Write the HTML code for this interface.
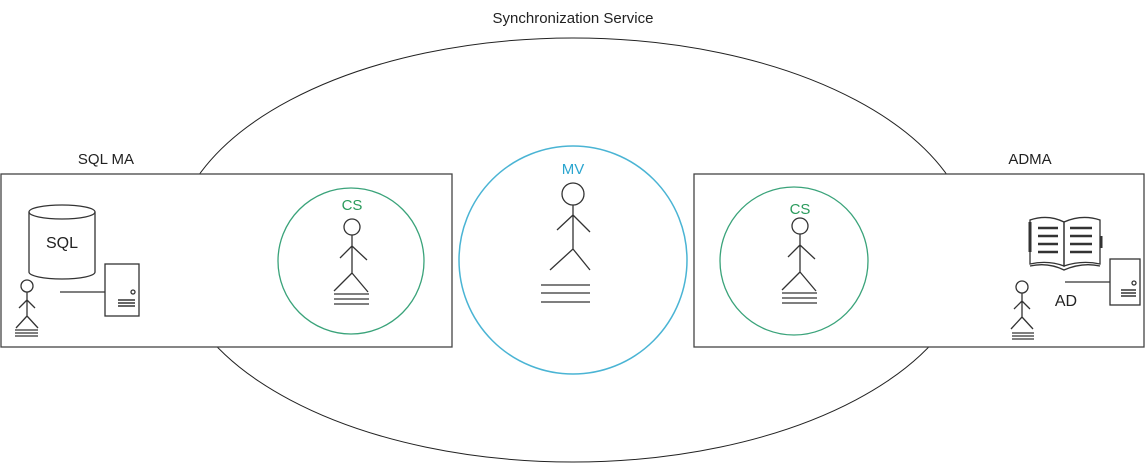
<!DOCTYPE html>
<html><head><style>body{margin:0;background:#fff}svg{display:block}</style></head><body>
<svg width="1146" height="470" xmlns="http://www.w3.org/2000/svg" font-family="Liberation Sans, sans-serif">
<rect width="1146" height="470" fill="#fff"/>
<ellipse cx="573" cy="250" rx="400" ry="212" fill="none" stroke="#222" stroke-width="1"/>
<text x="573" y="23" font-size="15" text-anchor="middle" fill="#222">Synchronization Service</text>
<rect x="1" y="174" width="451" height="173" fill="#fff" stroke="#444" stroke-width="1.3"/>
<rect x="694" y="174" width="450" height="173" fill="#fff" stroke="#444" stroke-width="1.3"/>
<text x="106" y="164" font-size="15" text-anchor="middle" fill="#222">SQL MA</text>
<text x="1030" y="164" font-size="15" text-anchor="middle" fill="#222">ADMA</text>
<circle cx="573" cy="260" r="114" fill="#fff" stroke="#4ab4d4" stroke-width="1.5"/>
<circle cx="351" cy="261" r="73" fill="none" stroke="#3aa37a" stroke-width="1.3"/>
<circle cx="794" cy="261" r="74" fill="none" stroke="#3aa37a" stroke-width="1.3"/>
<text x="573" y="174" font-size="15" text-anchor="middle" fill="#2aa5cf">MV</text>
<text x="352" y="210" font-size="15" text-anchor="middle" fill="#2a9b5c">CS</text>
<text x="800" y="214" font-size="15" text-anchor="middle" fill="#2a9b5c">CS</text>
<g stroke="#333" stroke-width="1.3" fill="none">
<circle cx="573" cy="194" r="11"/>
<path d="M573 205V249M573 215L557 230M573 215L590 232M573 249L550 270M573 249L590 270M541 285H590M541 293H590M541 302H590"/>
<circle cx="352" cy="227" r="8"/>
<path d="M352 235V273M352 246L340 258M352 246L367 260M352 273L334 291M352 273L368 292M334 294H369M334 299H369M334 304H369"/>
<g transform="translate(448,-1)"><circle cx="352" cy="227" r="8"/>
<path d="M352 235V273M352 246L340 258M352 246L367 260M352 273L334 291M352 273L368 292M334 294H369M334 299H369M334 304H369"/></g>
<path d="M29 212V272A33 7 0 0 0 95 272V212"/>
<ellipse cx="62" cy="212" rx="33" ry="7"/>
<circle cx="27" cy="286" r="6"/>
<path d="M27 292V316M27 300L19 308M27 300L35 308M27 316L16 328M27 316L38 328M15 330H38M15 333H38M15 336H38"/>
<path d="M60 292H105"/>
<rect x="105" y="264" width="34" height="52"/>
<circle cx="133" cy="292" r="2"/>
<path d="M118 300H135M118 303H135M118 306H135" stroke-width="1.6"/>
<circle cx="1022" cy="287" r="6"/>
<path d="M1022 293V317M1022 301L1014 309M1022 301L1030 309M1022 317L1011 329M1022 317L1033 329M1012 333H1034M1012 336H1034M1012 339H1034"/>
<path d="M1065 282H1110"/>
<rect x="1110" y="259" width="30" height="46"/>
<circle cx="1134" cy="283" r="2"/>
<path d="M1121 290H1136M1121 293H1136M1121 296H1136" stroke-width="1.6"/>
<path d="M1030 220Q1048 214 1064 222V266Q1048 260 1030 264Z"/>
<path d="M1064 222Q1082 214 1100 220V264Q1082 260 1064 266Z"/>
<path d="M1030 266Q1048 262 1064 270Q1082 262 1100 266"/>
<path d="M1038 228H1058M1038 236H1058M1038 244H1058M1038 252H1058M1070 228H1092M1070 236H1092M1070 244H1092M1070 252H1092" stroke-width="2.5"/>
<path d="M1030 222V252M1101 236V248" stroke-width="3"/>
</g>
<text x="62" y="248" font-size="16" text-anchor="middle" fill="#222">SQL</text>
<text x="1066" y="306" font-size="16" text-anchor="middle" fill="#222">AD</text>
</svg>
</body></html>
